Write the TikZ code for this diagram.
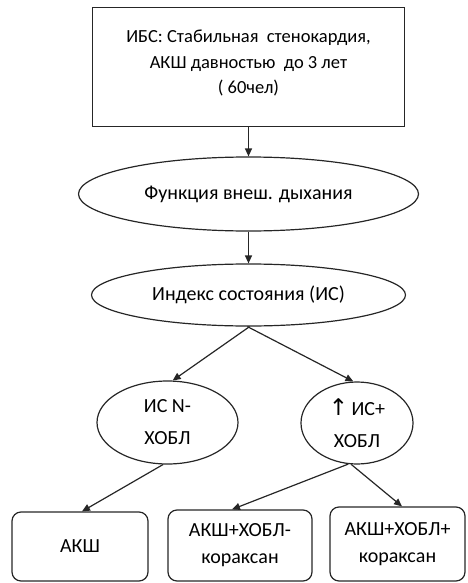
\documentclass[tikz,border=0pt]{standalone}
\usepackage{fontspec}
\setmainfont{Carlito}
\newfontfamily\arrowfont{DejaVu Sans}
\usetikzlibrary{shapes.geometric,arrows.meta}
\begin{document}
\begin{tikzpicture}[x=1pt,y=-1pt,
  every node/.style={font=\fontsize{20}{27}\selectfont, align=center, inner sep=0pt, line width=1.2pt, draw=black!85},
  sqbox/.style={rectangle},
  rbox/.style={rectangle, rounded corners=9pt},
  ell/.style={ellipse},
  plain/.style={draw=none},
  conn/.style={line width=1.2pt, draw=black!85, -{Triangle[length=8pt,width=7pt]}}
]
\useasboundingbox (0,0) rectangle (467,583);
\node[sqbox, minimum width=312pt, minimum height=119pt] (top) at (248.5,67) {};
\node[plain, font=\fontsize{18.5}{25.5}\selectfont] (toptext) at (248.5,63)
  {ИБС: Стабильная\ \ стенокардия,\\АКШ давностью\ \ до 3 лет\\( 60чел)};
\node[ell, minimum width=340pt, minimum height=74pt] (e1) at (248.5,194) {Функция внеш. дыхания};
\node[ell, minimum width=314pt, minimum height=62pt] (e2) at (248.5,295) {Индекс состояния (ИС)};
\node[ell, minimum width=141pt, minimum height=83pt, font=\fontsize{20}{32}\selectfont] (l) at (167.5,422.5) {ИС N-\\ХОБЛ};
\node[ell, minimum width=112pt, minimum height=82pt, font=\fontsize{20}{32}\selectfont] (r) at (357,423) {{\arrowfont\fontsize{23}{32}\selectfont↑}\,ИС+\\ХОБЛ};
\node[rbox, minimum width=136pt, minimum height=69pt] (b1) at (80,546.5) {АКШ};
\node[rbox, minimum width=144pt, minimum height=71pt] (b2) at (240,545.5) {АКШ+ХОБЛ-\\кораксан};
\node[rbox, minimum width=135pt, minimum height=74pt] (b3) at (397.5,544) {АКШ+ХОБЛ+\\кораксан};
\draw[conn] (top.south) -- (e1.north);
\draw[conn] (e1.south) -- (e2.north);
\draw[conn] (e2.272) -- (l.83);
\draw[conn] (e2.268) -- (r.95);
\draw[conn] (l.264) -- ([xshift=2pt]b1.north);
\draw[conn] (r.258) -- ([xshift=-8pt]b2.north);
\draw[conn] (r.262) -- ([xshift=4.5pt]b3.north);
\end{tikzpicture}
\end{document}
